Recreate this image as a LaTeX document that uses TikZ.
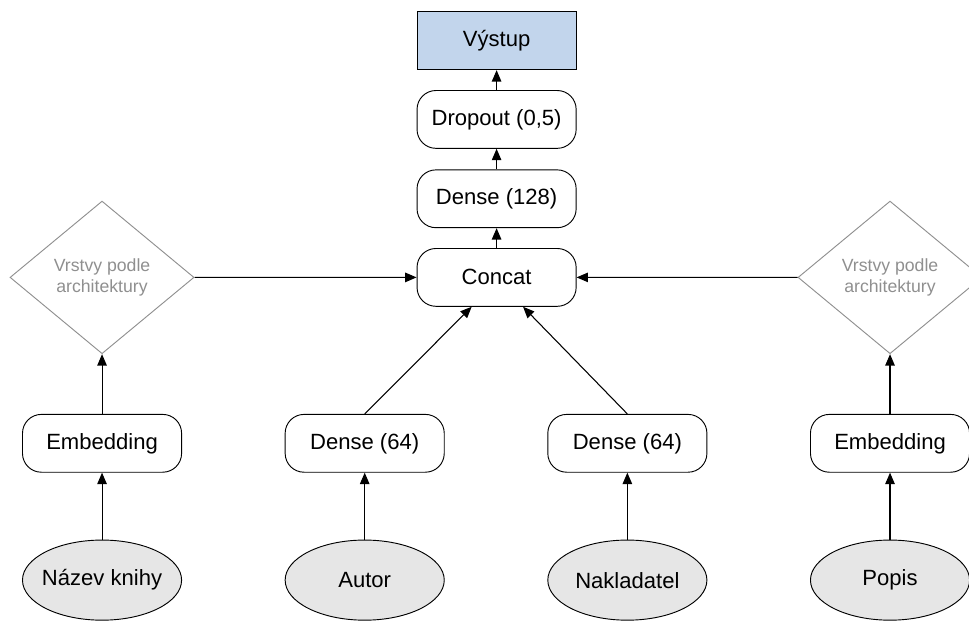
\documentclass[tikz,border=0pt]{standalone}
\usepackage{fontspec}
\setmainfont{Liberation Sans}
\usepackage{tikz}
\usetikzlibrary{shapes.geometric,arrows.meta}
\definecolor{outblue}{HTML}{C2D5EC}
\definecolor{ingray}{HTML}{E6E6E6}
\definecolor{archgray}{HTML}{8F8F8F}
\tikzstyle{process} = [rectangle, rounded corners=0.5cm, minimum width=4.21cm, minimum height=1.53cm, text centered, draw=black, line width=0.7pt, fill=white, font=\fontsize{16.6}{19}\selectfont]
\tikzstyle{output} = [rectangle, minimum width=4.21cm, minimum height=1.53cm, text centered, draw=black, line width=0.7pt, fill=outblue, font=\fontsize{16.6}{19}\selectfont]
\tikzstyle{input} = [ellipse, minimum width=4.21cm, minimum height=2.12cm, inner xsep=-0.15cm, inner ysep=0pt, text centered, draw=black, line width=0.7pt, fill=ingray, font=\fontsize{16.6}{19}\selectfont]
\tikzstyle{arch} = [diamond, minimum width=4.87cm, minimum height=3.68cm, align=center, draw=archgray, line width=0.7pt, text=archgray, font=\fontsize{13.3}{16.5}\selectfont]
\tikzstyle{arrow} = [thick,->,>={Triangle[length=0.3cm,width=0.25cm]}]

\begin{document}
\begin{tikzpicture}[node distance=6.95cm]
\useasboundingbox (0,0) rectangle (25.64,-16.46);
\node (nazev) [input] at (2.70,-15.35) {Název knihy};
\node (autor) [input, right of=nazev] {Autor};
\node (nakladatel) [input, right of=autor] {Nakladatel};
\node (popis) [input, right of=nakladatel] {Popis};

\node (embnazev) [process, above of=nazev, node distance=3.62cm] {Embedding};
\node (denseautor) [process, above of=autor, node distance=3.62cm] {Dense (64)};
\node (densenakl) [process, above of=nakladatel, node distance=3.62cm] {Dense (64)};
\node (embpopis) [process, above of=popis, node distance=3.62cm] {Embedding};

\node (archnazev) [arch, above of=embnazev, node distance=4.39cm] {Vrstvy podle\\architektury};
\node (archpopis) [arch, above of=embpopis, node distance=4.39cm] {Vrstvy podle\\architektury};

\node (concat) [process] at (13.14,-7.34) {Concat};
\node (dense128) [process, above of=concat, node distance=2.08cm] {Dense (128)};
\node (dropout) [process, above of=dense128, node distance=2.10cm] {Dropout (0,5)};
\node (vystup) [output, above of=dropout, node distance=2.08cm] {Výstup};

\draw [arrow] (nazev) -- (embnazev);
\draw [arrow] (autor) -- (denseautor);
\draw [arrow] (nakladatel) -- (densenakl);
\draw [arrow] (popis) -- (embpopis);
\draw [arrow] (embnazev) -- (archnazev);
\draw [arrow] (embpopis) -- (archpopis);
\draw [arrow] (archnazev.east) -- (concat.west);
\draw [arrow] (archpopis.west) -- (concat.east);
\draw [arrow] (denseautor.north) -- ([xshift=-0.66cm]concat.south);
\draw [arrow] (densenakl.north) -- ([xshift=0.70cm]concat.south);
\draw [arrow] (concat) -- (dense128);
\draw [arrow] (dense128) -- (dropout);
\draw [arrow] (dropout) -- (vystup);
\end{tikzpicture}
\end{document}
